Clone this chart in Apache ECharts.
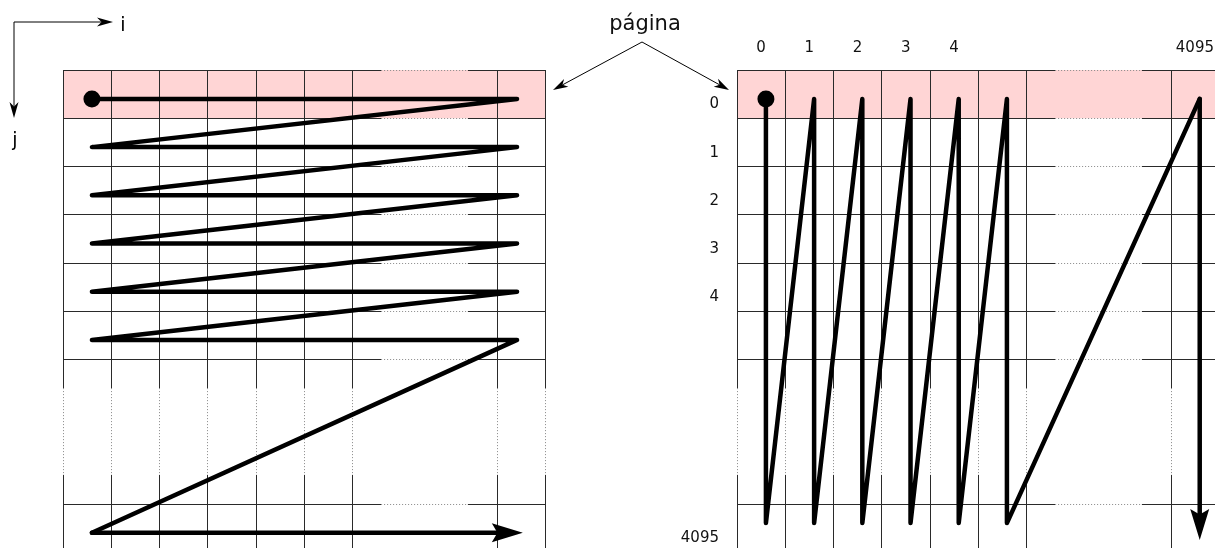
<!DOCTYPE html>
<html><head><meta charset="utf-8">
<script src="https://cdn.jsdelivr.net/npm/echarts@6/dist/echarts.min.js"></script>
<style>html,body{margin:0;padding:0;background:#fff}#c{width:1215px;height:548px}</style>
</head><body><div id="c"></div>
<script>
// ---- data (cell units: columns i, rows j) ----
const colLabels = ['0', '1', '2', '3', '4', '', '', '', '', '4095'];
const rowLabels = ['0', '1', '2', '3', '4', '', '', '', '', '4095'];
const gridLineIdx = [0, 1, 2, 3, 4, 5, 6, 9, 10];   // matrix lines that are drawn
const gapFrom = 6.6, gapTo = 8.4;                    // elided (dotted) stretch
const matrixSize = 10;
const pageRow = 0;                                    // highlighted page (row 0)
// row-major traversal (left)
const rowMajorPath = [
  [0.6, 0.6], [9.42, 0.6], [0.6, 1.6], [9.42, 1.6], [0.6, 2.6], [9.42, 2.6],
  [0.6, 3.6], [9.42, 3.6], [0.6, 4.6], [9.42, 4.6], [0.6, 5.6], [9.42, 5.6],
  [0.6, 9.6]
];
const rowMajorArrow = [[0.6, 9.6], [9.54, 9.6]];
// column-major traversal (right)
const colMajorPath = [
  [0.6, 0.6], [0.6, 9.4], [1.6, 0.6], [1.6, 9.4], [2.6, 0.6], [2.6, 9.4],
  [3.6, 0.6], [3.6, 9.4], [4.6, 0.6], [4.6, 9.4], [5.6, 0.6], [5.6, 9.4],
  [9.6, 0.6]
];
const colMajorArrow = [[9.6, 0.6], [9.6, 9.75]];
const startPoint = [0.6, 0.6];

const FONT = 'DejaVu Sans';
const PATH_W = 4.5;

function gridSegments(dotted) {
  const out = [];
  gridLineIdx.forEach(v => {
    if (dotted) {
      out.push({coords: [[v, gapFrom], [v, gapTo]]});
      out.push({coords: [[gapFrom, v], [gapTo, v]]});
    } else {
      out.push({coords: [[v, 0], [v, gapFrom]]});
      out.push({coords: [[v, gapTo], [v, matrixSize]]});
      out.push({coords: [[0, v], [gapFrom, v]]});
      out.push({coords: [[gapTo, v], [matrixSize, v]]});
    }
  });
  return out;
}

function headPoints(x1, y1, x2, y2, len, half, notch) {
  const a = Math.atan2(y2 - y1, x2 - x1);
  const ux = Math.cos(a), uy = Math.sin(a), px = -uy, py = ux;
  const bx = x2 - ux * len, by = y2 - uy * len;
  const nx = x2 - ux * len * notch, ny = y2 - uy * len * notch;
  return {
    neck: [nx, ny],
    points: [[x2, y2], [bx + px * half, by + py * half], [nx, ny], [bx - px * half, by - py * half]]
  };
}

function matrixSeries(gi, path, arrow) {
  return [
    {
      type: 'custom', xAxisIndex: gi, yAxisIndex: gi, z: 1, silent: true, clip: false,
      data: [[0, pageRow, matrixSize, pageRow + 1]],
      renderItem: function (params, api) {
        const p0 = api.coord([api.value(0), api.value(1)]);
        const p1 = api.coord([api.value(2), api.value(3)]);
        return {type: 'rect', shape: {x: p0[0], y: p0[1], width: p1[0] - p0[0], height: p1[1] - p0[1]},
                style: {fill: '#ffd5d5'}};
      }
    },
    {
      type: 'lines', coordinateSystem: 'cartesian2d', xAxisIndex: gi, yAxisIndex: gi, z: 2, silent: true,
      data: gridSegments(false),
      lineStyle: {color: '#2a2a2a', width: 1, opacity: 1}
    },
    {
      type: 'lines', coordinateSystem: 'cartesian2d', xAxisIndex: gi, yAxisIndex: gi, z: 2, silent: true,
      data: gridSegments(true),
      lineStyle: {color: '#888', width: 1, type: [1, 2], opacity: 1}
    },
    {
      type: 'line', xAxisIndex: gi, yAxisIndex: gi, z: 4, silent: true,
      data: path, showSymbol: false, symbol: 'none',
      lineStyle: {color: '#000', width: PATH_W, cap: 'round', join: 'round'}
    },
    {
      type: 'custom', xAxisIndex: gi, yAxisIndex: gi, z: 4, silent: true, clip: false,
      data: [[arrow[0][0], arrow[0][1], arrow[1][0], arrow[1][1]]],
      renderItem: function (params, api) {
        const p0 = api.coord([api.value(0), api.value(1)]);
        const p1 = api.coord([api.value(2), api.value(3)]);
        const h = headPoints(p0[0], p0[1], p1[0], p1[1], 31, 9.5, 0.82);
        return {type: 'group', children: [
          {type: 'line', shape: {x1: p0[0], y1: p0[1], x2: h.neck[0], y2: h.neck[1]},
           style: {stroke: '#000', lineWidth: PATH_W, lineCap: 'round'}},
          {type: 'polygon', shape: {points: h.points}, style: {fill: '#000'}}
        ]};
      }
    },
    {
      type: 'scatter', xAxisIndex: gi, yAxisIndex: gi, z: 5, silent: true,
      data: [startPoint], symbolSize: 17, itemStyle: {color: '#000', opacity: 1}
    }
  ];
}

function arrowGraphic(x1, y1, x2, y2, len, half) {
  const h = headPoints(x1, y1, x2, y2, len, half, 0.72);
  return [
    {type: 'line', shape: {x1: x1, y1: y1, x2: h.neck[0], y2: h.neck[1]}, style: {stroke: '#000', lineWidth: 1}},
    {type: 'polygon', shape: {points: h.points}, style: {fill: '#000'}}
  ];
}

const graphics = [].concat(
  arrowGraphic(14, 22, 113, 22, 16, 4.5),
  arrowGraphic(14, 22, 14, 118, 16, 4.5),
  arrowGraphic(642, 42, 553, 90, 15, 4.5),
  arrowGraphic(642, 42, 729, 90, 15, 4.5),
  [
    {type: 'text', x: 123, y: 26, style: {text: 'i', font: '19px "DejaVu Sans"', fill: '#000', align: 'center', verticalAlign: 'middle'}},
    {type: 'text', x: 15, y: 141, style: {text: 'j', font: '19px "DejaVu Sans"', fill: '#000', align: 'center', verticalAlign: 'middle'}},
    {type: 'text', x: 645, y: 25, style: {text: 'página', font: '21px "DejaVu Sans"', fill: '#111', align: 'center', verticalAlign: 'middle'}}
  ]
);

const labelStyle = {fontSize: 15, color: '#111', fontFamily: FONT};

const option = {
  animation: false,
  backgroundColor: '#fff',
  grid: [
    {left: 63, top: 70, width: 482, height: 482, show: false, containLabel: false, outerBoundsMode: 'none'},
    {left: 737, top: 70, width: 482, height: 482, show: false, containLabel: false, outerBoundsMode: 'none'}
  ],
  xAxis: [
    {type: 'value', gridIndex: 0, min: 0, max: matrixSize, show: false},
    {type: 'value', gridIndex: 1, min: 0, max: matrixSize, show: false},
    {type: 'category', gridIndex: 1, position: 'top', data: colLabels,
     axisLine: {show: false}, axisTick: {show: false}, splitLine: {show: false},
     axisLabel: Object.assign({interval: 0, margin: 14}, labelStyle)}
  ],
  yAxis: [
    {type: 'value', gridIndex: 0, min: 0, max: matrixSize, inverse: true, show: false},
    {type: 'value', gridIndex: 1, min: 0, max: matrixSize, inverse: true, show: false},
    {type: 'category', gridIndex: 1, position: 'left', inverse: true, data: rowLabels,
     axisLine: {show: false}, axisTick: {show: false}, splitLine: {show: false},
     axisLabel: Object.assign({interval: 0, margin: 18, verticalAlign: 'top', lineHeight: 21}, labelStyle)}
  ],
  graphic: graphics,
  series: [].concat(
    matrixSeries(0, rowMajorPath, rowMajorArrow),
    matrixSeries(1, colMajorPath, colMajorArrow)
  )
};

const chart = echarts.init(document.getElementById('c'));
chart.setOption(option);
</script>
</body></html>
